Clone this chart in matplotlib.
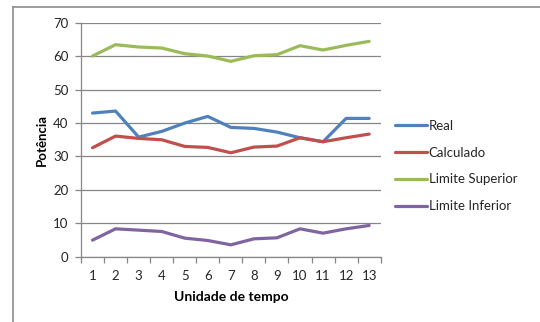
import matplotlib
matplotlib.use("Agg")
import matplotlib.pyplot as plt
from matplotlib.lines import Line2D
import numpy as np

plt.rcParams['font.family'] = ['Lato', 'DejaVu Sans']

periods = list(range(1, 14))
real = [43.0, 43.6, 35.8, 37.5, 40.0, 42.0, 38.7, 38.4, 37.3, 35.6, 34.4, 41.4, 41.4]
calculado = [32.6, 36.1, 35.4, 35.0, 33.0, 32.7, 31.1, 32.8, 33.1, 35.6, 34.4, 35.6, 36.7]
limite_superior = [60.1, 63.5, 62.8, 62.5, 60.8, 60.1, 58.5, 60.2, 60.5, 63.2, 61.9, 63.3, 64.5]
limite_inferior = [4.9, 8.3, 7.9, 7.5, 5.5, 4.8, 3.5, 5.3, 5.6, 8.3, 7.0, 8.3, 9.3]

series = [
    ("Real", real, "#4F81BD"),
    ("Calculado", calculado, "#C0504D"),
    ("Limite Superior", limite_superior, "#9BBB59"),
    ("Limite Inferior", limite_inferior, "#8064A2"),
]

fig = plt.figure(figsize=(5.4, 3.22), dpi=100)
fig.patch.set_facecolor("white")

# chart frame (top and left edges)
fig.add_artist(Line2D([13/540, 1.0], [1 - 7/322, 1 - 7/322], color="#8C8C8C", lw=1.2))
fig.add_artist(Line2D([13/540, 13/540], [0.0, 1 - 7/322], color="#8C8C8C", lw=1.2))

ax = fig.add_axes([81/540, 1 - 256.5/322, (380.7 - 81)/540, (256.5 - 23)/322])

for name, vals, col in series:
    ax.plot(periods, vals, color=col, lw=2.3, label=name, solid_capstyle="round")

ax.set_xlim(0.5, 13.5)
ax.set_ylim(0, 70)
ax.set_yticks(np.arange(0, 71, 10))
ax.set_xticks(periods)
ax.set_xticks(np.arange(0.5, 13.6, 1.0), minor=True)
ax.grid(axis="y", color="#868686", lw=0.9)
ax.set_axisbelow(True)

for s in ["top", "right"]:
    ax.spines[s].set_visible(False)
for s in ["left", "bottom"]:
    ax.spines[s].set_color("#868686")
    ax.spines[s].set_linewidth(0.9)

ax.tick_params(axis="x", which="major", length=0, pad=10, labelsize=9.5, colors="#262626")
ax.tick_params(axis="x", which="minor", length=4, color="#868686", width=0.9)
ax.tick_params(axis="y", length=4, color="#868686", width=0.9, pad=5, labelsize=9.5, labelcolor="#262626")

ax.set_xlabel("Unidade de tempo", fontsize=10, fontweight="bold", labelpad=6)
ax.set_ylabel("Potência", fontsize=9.5, fontweight="bold", labelpad=4)

leg = ax.legend(loc="center left", bbox_to_anchor=(1.03, 0.3876), frameon=False,
                fontsize=9.5, handlelength=2.4, handletextpad=0.15, labelspacing=1.12,
                borderaxespad=0.0)
for t in leg.get_texts():
    t.set_color("#262626")

fig.savefig("out.png", dpi=100)
